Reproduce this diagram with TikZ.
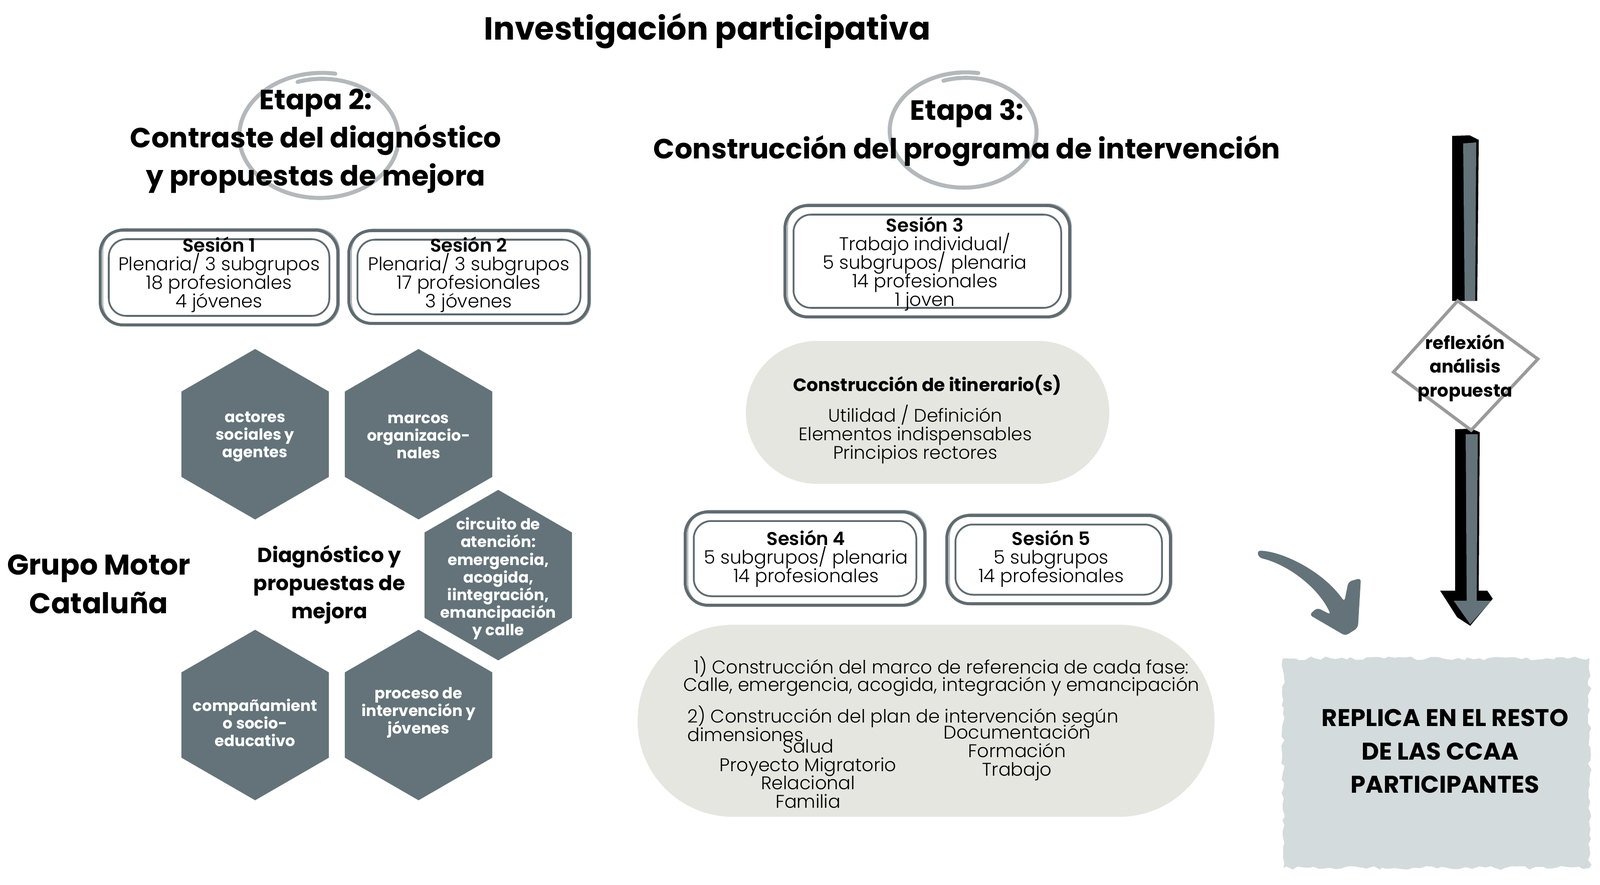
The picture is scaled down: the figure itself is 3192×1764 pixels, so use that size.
\documentclass[tikz,border=0pt]{standalone}
\usepackage{fontspec}
\setmainfont{Poppins}
\newfontfamily\lightfont{Poppins Light}
\usetikzlibrary{decorations.pathmorphing,calc}
\lineskiplimit=-100pt
\definecolor{slate}{HTML}{637379}
\definecolor{boxline}{HTML}{5F6B70}
\definecolor{circ}{HTML}{B3B8BB}
\definecolor{pill}{HTML}{E6E6E1}
\definecolor{replfill}{HTML}{D4DBDC}
\definecolor{diam}{HTML}{9A9A9A}
\newcommand\sessbox[4]{%
  \draw[boxline!55, line width=0.6pt, rounded corners=0.45cm] ({#1+5},{#2-3}) rectangle ({#3+3},{#4+2});
  \draw[boxline, line width=1.7pt, rounded corners=0.45cm] (#1,#2) rectangle (#3,#4);
  \draw[boxline, line width=1pt, rounded corners=0.35cm] ({#1+17},{#2+18}) rectangle ({#3-17},{#4-18});
}
\newcommand\hexagon[2]{%
  \fill[slate] (#1,#2) ++(0,-170) -- ++(147.2,85) -- ++(0,170) -- ++(-147.2,85) -- ++(-147.2,-85) -- ++(0,-170) -- cycle;
}
\tikzset{
  x=0.01cm, y=-0.01cm,
  ttl/.style={font=\bfseries\fontsize{18.1pt}{22pt}\selectfont, inner sep=0},
  stage/.style={font=\bfseries\fontsize{15.8pt}{21.7pt}\selectfont, align=center, inner sep=0},
  body/.style={font=\lightfont\fontsize{10.5pt}{10.5pt}\selectfont, align=center, inner sep=0},
  hextxt/.style={font=\bfseries\fontsize{8.75pt}{10pt}\selectfont, text=white, align=center, inner sep=0},
  spiral/.style={circ, line width=2.3pt, line cap=round},
}
\begin{document}
\begin{tikzpicture}
\useasboundingbox (0,0) rectangle (3192,1764);

% title
\node[ttl] (title) at (1411,62) {Investigación participativa};

% decorative hand-drawn circles
\draw[spiral] plot[domain=80:468, samples=120, smooth]
  ({640+167*(1-0.1*(\x-80)/388)*cos(\x)}, {273-128*(1-0.1*(\x-80)/388)*sin(\x)});
\draw[spiral] plot[domain=80:468, samples=120, smooth]
  ({1925+154*(1-0.1*(\x-80)/388)*cos(\x)}, {262-118*(1-0.1*(\x-80)/388)*sin(\x)});

% stage titles
\node[stage] (et2) at (630,281) {Etapa 2:\\Contraste del diagnóstico\\y propuestas de mejora};
\node[stage] (et3) at (1929,265) {Etapa 3:\\Construcción del programa de intervención};

% session boxes
\sessbox{200}{459}{674}{648}
\node[body] (s1) at (437,548) {{\bfseries Sesión 1}\\Plenaria/ 3 subgrupos\\18 profesionales\\4 jóvenes};
\sessbox{696}{460}{1175}{645}
\node[body] (s2) at (935,548) {{\bfseries Sesión 2}\\Plenaria/ 3 subgrupos\\17 profesionales\\3 jóvenes};
\sessbox{1566}{410}{2134}{632}
\node[body] (s3) at (1845,526) {{\bfseries Sesión 3}\\Trabajo individual/\\5 subgrupos/ plenaria\\14 profesionales\\1 joven};
\sessbox{1367}{1021}{1845}{1207}
\node[body] (s4) at (1608,1114) {{\bfseries Sesión 4}\\5 subgrupos/ plenaria\\14 profesionales};
\sessbox{1889}{1028}{2335}{1204}
\node[body] (s5) at (2097,1114) {{\bfseries Sesión 5}\\5 subgrupos\\14 profesionales};

% hexagons
\hexagon{509}{866}
\hexagon{835}{866}
\hexagon{994}{1147}
\hexagon{509}{1426}
\hexagon{835}{1426}
\node[hextxt] (h1) at (509,871) {actores\\sociales y\\agentes};
\node[hextxt] (h2) at (835,871) {marcos\\organizacio-\\nales};
\node[hextxt] (h3) at (994,1154) {circuito de\\atención:\\emergencia,\\acogida,\\iintegración,\\emancipación\\y calle};
\node[hextxt] (h4) at (509,1441) {compañamient\\o socio-\\educativo};
\node[hextxt] (h5) at (835,1421) {proceso de\\intervención y\\jóvenes};

\node[font=\bfseries\fontsize{11.6pt}{16pt}\selectfont, align=center, inner sep=0] (diag) at (657,1166) {Diagnóstico y\\propuestas de\\mejora};
\node[stage, font=\bfseries\fontsize{16.2pt}{21.9pt}\selectfont] (grupo) at (197,1165) {Grupo Motor\\Cataluña};

% itinerario pill
\fill[pill, rounded corners=1.42cm] (1488,680) rectangle (2213,965);
\node[font=\bfseries\fontsize{10.2pt}{12pt}\selectfont, inner sep=0] (itin) at (1850,768) {Construcción de itinerario(s)};
\node[body, font=\lightfont\fontsize{10.3pt}{10.5pt}\selectfont] (itin2) at (1826,866) {Utilidad / Definición\\Elementos indispensables\\Principios rectores};

% big pill
\fill[pill, rounded corners=1.9cm] (1272,1246) rectangle (2423,1629);
\node[body, font=\lightfont\fontsize{10.4pt}{9.8pt}\selectfont] (p1) at (1878,1349) {1) Construcción del marco de referencia de cada fase:\\Calle, emergencia, acogida, integración y emancipación};
\node[body, font=\lightfont\fontsize{10.4pt}{10.5pt}\selectfont, align=left, anchor=west] (p2) at (1371,1443) {2) Construcción del plan de intervención según\\dimensiones};
\node[body, font=\lightfont\fontsize{10.4pt}{10.4pt}\selectfont] (p3) at (1612,1543) {Salud\\Proyecto Migratorio\\Relacional\\Familia};
\node[body, font=\lightfont\fontsize{10.4pt}{10.5pt}\selectfont] (p4) at (2029,1501) {Documentación\\Formación\\Trabajo};

% vertical 3D arrow
\fill[black] (2897,271) -- (2932,270) -- (2950,279) -- (2947,600) -- (2897,600) -- cycle;
\fill[slate] (2919,286) -- (2945,284) -- (2943,600) -- (2922,600) -- cycle;
\fill[black] (2903,856) -- (2935,855) -- (2952,862) -- (2950,1178) -- (2967,1178) -- (2978,1194) -- (2933,1248) -- (2907,1231) -- (2873,1178) -- (2903,1178) -- cycle;
\fill[slate] (2924,866) -- (2948,866) -- (2946,1198) -- (2975,1198) -- (2933,1245) -- (2900,1198) -- (2926,1198) -- cycle;

% diamond
\draw[diam, line width=1.8pt, fill=white, line join=miter] (2908,600) -- (3068,716) -- (2935,858) -- (2780,742) -- cycle;
\node[font=\bfseries\fontsize{10pt}{13.4pt}\selectfont, align=center, inner sep=0] (refl) at (2923,734) {reflexión\\análisis\\propuesta};

% curved brush arrow
\fill[slate, rounded corners=2pt] (2508,1098) .. controls (2560,1100) and (2640,1140) .. (2682,1200)
  -- (2690,1160) -- (2715,1153) -- (2709,1252) -- (2684,1268) -- (2612,1226) -- (2628,1212) -- (2655,1226)
  .. controls (2630,1172) and (2570,1126) .. (2511,1112) -- cycle;

% replica box
\fill[replfill, decorate, decoration={random steps, segment length=3pt, amplitude=1.1pt}]
  (2560,1313) -- (3171,1313) -- (3171,1731) -- (2560,1731) -- cycle;
\node[font=\bfseries\fontsize{13.7pt}{19pt}\selectfont, align=center, inner sep=0] (replica) at (2883,1498) {REPLICA EN EL RESTO\\DE LAS CCAA\rule{0.2cm}{0pt}\\PARTICIPANTES};
\end{tikzpicture}
\end{document}
